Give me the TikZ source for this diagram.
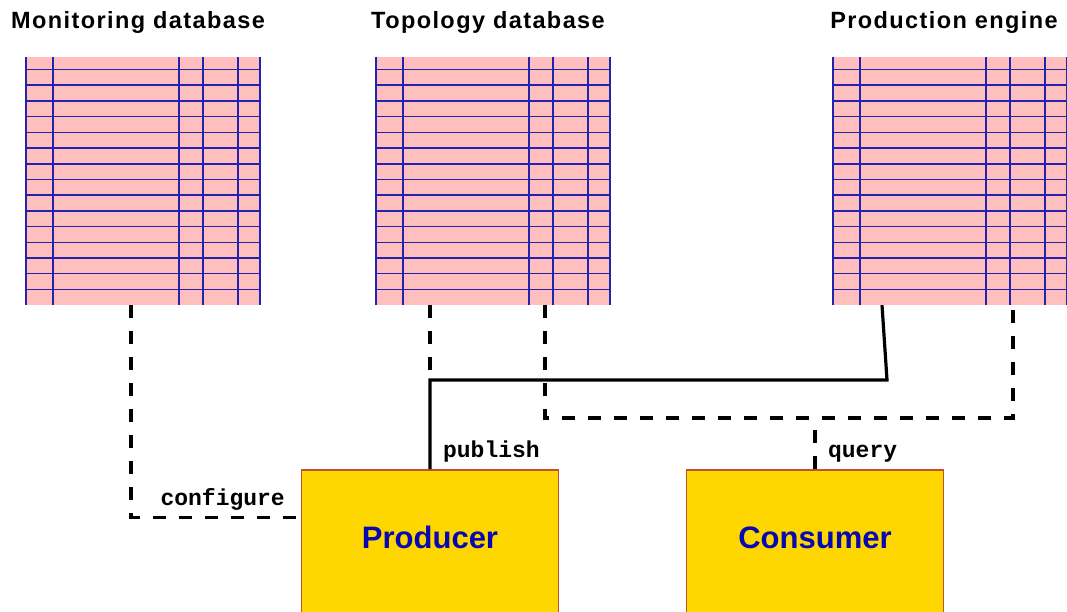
\documentclass[tikz,border=0pt]{standalone}
\usepackage{fontspec}
\setmainfont{Liberation Sans}
\setmonofont{Liberation Mono}
\newfontfamily\trackedsans[LetterSpace=6]{Liberation Sans}
\usepackage{tikz}

\definecolor{cellpink}{RGB}{255,191,191}
\definecolor{gridblue}{RGB}{35,35,175}
\definecolor{boxgold}{RGB}{255,215,0}
\definecolor{boxedge}{RGB}{192,84,48}
\definecolor{procblue}{RGB}{8,8,176}

\begin{document}
\begin{tikzpicture}[x=1pt,y=1pt,
  dbtable/.style={rectangle,fill=cellpink,minimum width=236pt,minimum height=248pt,inner sep=0pt},
  gridln/.style={draw=gridblue,line width=1.5pt},
  dbtitle/.style={anchor=base,font=\trackedsans\bfseries\fontsize{23.5}{27}\selectfont},
  procbox/.style={rectangle,draw=boxedge,line width=1.5pt,fill=boxgold,minimum width=257pt,minimum height=155pt,
    text height=23pt,text depth=20pt,text=procblue,font=\bfseries\fontsize{31}{36}\selectfont},
  wire/.style={line width=3.2pt},
  dashwire/.style={wire,dash pattern=on 13pt off 13pt},
  wirelbl/.style={font=\ttfamily\bfseries\fontsize{23}{26}\selectfont,inner sep=5.5pt}]
\useasboundingbox (0,0) rectangle (1067,612);

% databases
\node[dbtable] (mondb) at (143,431) {};
\node[dbtable] (topodb) at (493,431) {};
\node[dbtable] (prodb) at (950,431) {};
\foreach \db in {mondb,topodb,prodb}{
  \foreach \k in {0,...,14}
    \draw[gridln] ([yshift=-12.7pt-\k*15.71pt]\db.north west) -- ([yshift=-12.7pt-\k*15.71pt]\db.north east);
  \foreach \c in {1,28,154,178,213,235}
    \draw[gridln] ([xshift=\c pt]\db.north west) -- ([xshift=\c pt]\db.south west);
}
\node[dbtitle] (montitle) at (138,583) {Monitoring database};
\node[dbtitle] (topotitle) at (488,583) {Topology database};
\node[dbtitle] (prodtitle) at (944,583) {Production engine};

% producer and consumer
\node[procbox] (producer) at (430,64.5) {Producer};
\node[procbox] (consumer) at (815,64.5) {Consumer};

% connectors
\coordinate (pubbend) at (887,232);
\coordinate (qbus) at (815,194);
\draw[dashwire] ([xshift=-12pt]mondb.south) |- ([yshift=-48pt]producer.north west)
  node[wirelbl,pos=0.77,above] {configure};
\draw[dashwire] (producer.north |- topodb.south) -- (producer.north |- pubbend);
\draw[wire] (producer.north) node[wirelbl,above right,xshift=6pt] {publish} |- (pubbend) -- ([xshift=-68pt]prodb.south);
\draw[dashwire] ([xshift=52pt]topodb.south) |- (qbus) -| ([xshift=63pt]prodb.south);
\draw[dashwire] (consumer.north) node[wirelbl,above right,xshift=6pt] {query} -- (qbus);
\end{tikzpicture}
\end{document}
